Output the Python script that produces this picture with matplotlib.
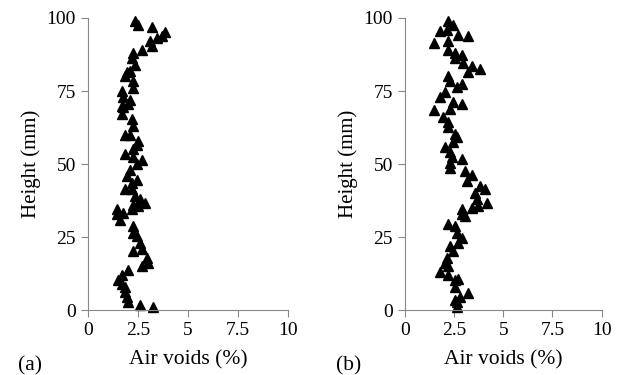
import numpy as np
import matplotlib.pyplot as plt

# Air voids (%) and height (mm), panel (a)
voids_a = [2.35, 2.5, 3.2, 3.85, 3.7, 3.45, 3.1, 3.2, 2.7, 2.25, 2.2, 2.35, 1.95, 1.85, 2.1,
           2.25, 2.25, 1.7, 1.75, 2.1, 1.75, 1.7, 2.0, 1.7, 2.2, 2.25, 1.85, 2.1, 2.5, 2.45,
           2.25, 1.85, 2.25, 2.7, 2.45, 2.1, 1.95, 2.45, 2.2, 1.85, 2.2, 2.35, 2.6, 2.85,
           2.25, 1.45, 1.45, 1.75, 1.6, 2.2, 2.5, 2.25, 2.25, 2.45, 2.6, 2.25, 2.7, 2.95,
           3.0, 2.7, 2.0, 1.7, 1.5, 1.7, 1.85, 1.85, 1.95, 2.0, 2.6, 3.25]
height_a = [99, 97.6, 97, 95.2, 94, 93, 92, 90.5, 89, 88, 86.4, 84, 81.4, 80, 82,
            78.6, 76, 75, 73, 72, 69.5, 70, 70.5, 67, 65.5, 63, 60, 60, 58, 56.6,
            55, 53.6, 52.5, 51.5, 50, 48, 45.8, 44.7, 43.4, 41.4, 41.4, 39, 38, 36.6,
            36, 34.6, 33, 33.3, 31, 34.6, 35.6, 28.8, 26.4, 25.4, 23, 20.3, 21, 18,
            16.3, 15.2, 13.6, 11.9, 10.2, 9.1, 7.8, 6.1, 4.4, 2.7, 1.7, 1.0]

# panel (b)
voids_b = [2.2, 2.45, 1.8, 2.15, 2.7, 3.2, 1.5, 2.2, 2.2, 2.55, 2.9, 2.55, 2.95, 3.4, 3.8,
           3.2, 2.2, 2.3, 2.9, 2.65, 2.05, 1.8, 2.45, 2.9, 2.3, 1.5, 1.95, 2.2, 2.2, 2.55,
           2.65, 2.45, 2.05, 2.3, 2.4, 2.9, 2.3, 2.3, 3.05, 3.4, 3.15, 3.8, 4.05, 3.55,
           3.65, 4.15, 3.4, 2.9, 3.7, 3.05, 2.9, 2.2, 2.55, 2.65, 2.9, 2.7, 2.3, 2.45,
           2.15, 2.05, 2.2, 1.8, 2.2, 2.55, 2.7, 2.55, 3.2, 2.8, 2.65, 2.55, 2.65]
height_b = [99, 97.6, 95.6, 96, 94.2, 93.9, 91.5, 92, 89, 88, 87.5, 86.4, 84.7, 83.7, 82.4,
            81.4, 80.3, 78.6, 77.3, 76.3, 74.6, 72.9, 71.2, 70.5, 68.8, 68.5, 66.1, 64.4, 62.7, 60.3,
            59.3, 57.6, 55.9, 54.2, 52.5, 51.9, 50.2, 48.5, 47.5, 46.4, 44.1, 42.4, 41.4, 40,
            38, 36.6, 34.9, 34.6, 35.6, 32.2, 32.9, 29.5, 28.8, 26.4, 24.7, 23, 22, 20.3,
            18, 16.3, 15.2, 12.9, 11.9, 10.2, 10.8, 7.8, 5.8, 4.4, 2.7, 3.4, 1.0]

x_ticks = [0, 2.5, 5, 7.5, 10]
x_labels = ['0', '2.5', '5', '7.5', '10']
y_ticks = [0, 25, 50, 75, 100]

plt.rcParams['font.family'] = 'Liberation Serif'

fig = plt.figure(figsize=(6.19, 3.75), dpi=100)
ax1 = fig.add_axes([0.142, 0.173, 0.323, 0.779])
ax2 = fig.add_axes([0.654, 0.173, 0.318, 0.779])

for ax, xs, ys, tag in [(ax1, voids_a, height_a, '(a)'), (ax2, voids_b, height_b, '(b)')]:
    ax.plot(xs, ys, '^', color='black', markersize=7, clip_on=False)
    ax.set_xlim(0, 10)
    ax.set_ylim(0, 100)
    ax.set_xticks(x_ticks)
    ax.set_xticklabels(x_labels)
    ax.set_yticks(y_ticks)
    ax.spines['top'].set_visible(False)
    ax.spines['right'].set_visible(False)
    for s in ['left', 'bottom']:
        ax.spines[s].set_color('#888888')
    ax.tick_params(direction='out', color='#888888', length=5, labelsize=14)
    ax.set_xlabel('Air voids (%)', fontsize=15.5, labelpad=8)
    ax.set_ylabel('Height (mm)', fontsize=15, labelpad=4)
    ax.text(-0.35, -0.19, tag, transform=ax.transAxes, fontsize=15.5, va='center')

fig.savefig('out.png')
